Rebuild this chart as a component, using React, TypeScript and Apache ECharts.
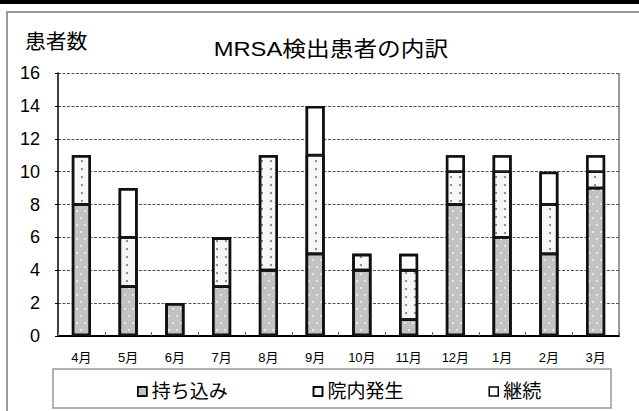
import React, { useEffect, useRef } from "react";
import * as echarts from "echarts";

const months = ["4月", "5月", "6月", "7月", "8月", "9月", "10月", "11月", "12月", "1月", "2月", "3月"];
const mochikomi = [8, 3, 2, 3, 4, 5, 4, 1, 8, 6, 5, 9];
const innai = [3, 3, 0, 3, 7, 6, 1, 3, 2, 4, 3, 1];
const keizoku = [0, 3, 0, 0, 0, 3, 0, 1, 1, 1, 2, 1];
const seriesNames = ["持ち込み", "院内発生", "継続"];
const yTicks = { min: 0, max: 16, interval: 2 };
const chartTitle = "MRSA検出患者の内訳";
const yName = "患者数";

const FONT = "'Liberation Sans', 'Noto Sans CJK JP', sans-serif";

export default function App() {
  const ref = useRef<HTMLDivElement>(null);
  useEffect(() => {
    if (!ref.current) return;
    const chart = echarts.init(ref.current, undefined, { renderer: "svg" });
    const toData = (arr: number[]) => arr.map((v) => (v === 0 ? "-" : v));
    const totals = months.map((_, i) => mochikomi[i] + innai[i] + keizoku[i]);
    const border = { borderColor: "#111", borderWidth: 1.4 };
    const option: any = {
      animation: false,
      backgroundColor: "#fff",
      textStyle: { fontFamily: FONT },
      grid: { left: 58, top: 73, right: 20, bottom: 75 },
      xAxis: {
        type: "category",
        data: months,
        axisLine: { show: true, lineStyle: { color: "#000", width: 2 } },
        axisTick: { show: true, inside: true, length: 4, alignWithLabel: false, lineStyle: { color: "#666" } },
        axisLabel: { color: "#000", fontSize: 13, margin: 15, fontFamily: FONT },
        splitLine: { show: false },
      },
      yAxis: {
        type: "value",
        min: yTicks.min,
        max: yTicks.max,
        interval: yTicks.interval,
        axisLine: { show: true, lineStyle: { color: "#000", width: 1.5 } },
        axisTick: { show: true, length: 3, lineStyle: { color: "#000" } },
        axisLabel: { color: "#000", fontSize: 18, margin: 18, fontFamily: FONT },
        splitLine: { show: true, lineStyle: { color: "#555", type: [3, 1.5], width: 1 } },
      },
      legend: {
        data: seriesNames,
        left: 132,
        top: 377,
        icon: "rect",
        itemWidth: 9,
        itemHeight: 9,
        itemGap: 85,
        itemStyle: { borderColor: "#000", borderWidth: 1.5 },
        textStyle: { color: "#000", fontSize: 19, fontFamily: FONT, padding: [0, 0, 0, 0] },
      },
      series: [
        {
          name: seriesNames[0],
          type: "bar",
          stack: "total",
          barWidth: 19,
          barGap: "-100%",
          data: toData(mochikomi),
          itemStyle: {
            color: "#c2c2c2",
            ...border,
            decal: {
              symbol: "circle",
              symbolSize: 0.8,
              color: "rgba(255,255,255,0.9)",
              dashArrayX: [[2, 6], [0, 4, 2, 2]],
              dashArrayY: [2, 5],
            },
          },
        },
        {
          name: seriesNames[1],
          type: "bar",
          stack: "total",
          barWidth: 19,
          barGap: "-100%",
          data: toData(innai),
          itemStyle: {
            color: "#f7f7f7",
            ...border,
            decal: {
              symbol: "circle",
              symbolSize: 1,
              color: "#7a7a7a",
              dashArrayX: [[2, 7]],
              dashArrayY: [2, 6],
            },
          },
        },
        {
          name: seriesNames[2],
          type: "bar",
          stack: "total",
          barWidth: 19,
          barGap: "-100%",
          data: toData(keizoku),
          itemStyle: { color: "#ffffff", ...border },
        },
        {
          name: "outline",
          type: "bar",
          barWidth: 19,
          barGap: "-100%",
          data: totals,
          silent: true,
          itemStyle: { color: "rgba(0,0,0,0)", borderColor: "#111", borderWidth: 2.6 },
        },
      ],
      graphic: [
        { type: "rect", shape: { x: 0, y: 0, width: 639, height: 4 }, style: { fill: "#000" }, silent: true },
        {
          type: "rect",
          shape: { x: 7, y: 12, width: 700, height: 500 },
          style: { fill: "none", stroke: "#9a9a9a", lineWidth: 2 },
          silent: true,
        },
        {
          type: "line",
          shape: { x1: 619, y1: 73, x2: 619, y2: 336 },
          style: { stroke: "#999", lineWidth: 2 },
          silent: true,
        },
        {
          type: "rect",
          shape: { x: 53, y: 369, width: 558, height: 39 },
          style: { fill: "none", stroke: "#999", lineWidth: 1.5 },
          silent: true,
        },
        {
          type: "text",
          x: 331,
          y: 38,
          scaleX: 1.13,
          style: {
            text: chartTitle,
            fill: "#000",
            fontSize: 21,
            fontFamily: FONT,
            textAlign: "center",
            textVerticalAlign: "top",
          },
        },
        {
          type: "text",
          x: 25,
          y: 32,
          scaleX: 1.04,
          style: {
            text: yName,
            fill: "#000",
            fontSize: 20,
            fontFamily: FONT,
            textAlign: "left",
            textVerticalAlign: "top",
          },
        },
      ],
    };
    chart.setOption(option);
    return () => chart.dispose();
  }, []);
  return (
    <div
      ref={ref}
      style={{ position: "fixed", left: 0, top: 0, width: 639, height: 411, background: "#fff" }}
    />
  );
}
